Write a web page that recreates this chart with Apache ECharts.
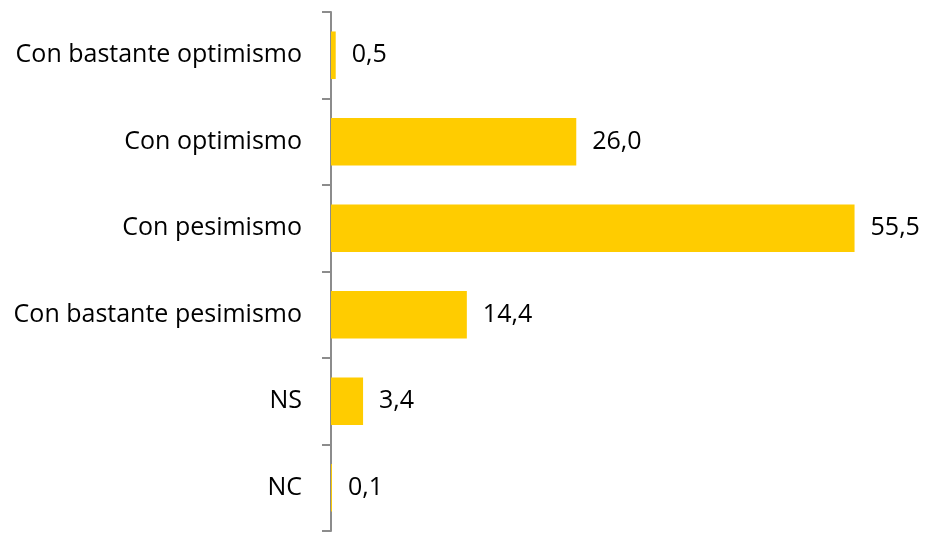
<!DOCTYPE html>
<html>
<head>
<meta charset="utf-8">
<script src="https://cdn.jsdelivr.net/npm/echarts@6/dist/echarts.min.js"></script>
<style>
  html, body { margin: 0; padding: 0; background: #fff; }
  #main { width: 926px; height: 533px; }
</style>
</head>
<body>
<div id="main"></div>
<script>
// datos del grafico (de arriba a abajo)
var categorias = ['Con bastante optimismo', 'Con optimismo', 'Con pesimismo', 'Con bastante pesimismo', 'NS', 'NC'];
var valores = [0.5, 26.0, 55.5, 14.4, 3.4, 0.1];

var myChart = echarts.init(document.getElementById('main'));

var option = {
    animation: false,
    grid: {
        left: 331,
        right: 29,
        top: 12,
        bottom: 2
    },
    xAxis: {
        type: 'value',
        min: 0,
        max: 60,
        show: false
    },
    yAxis: {
        type: 'category',
        inverse: true,
        data: categorias,
        axisLine: { show: true, lineStyle: { color: '#8c8c8c', width: 2 } },
        axisTick: { show: true, length: 9, lineStyle: { color: '#8c8c8c', width: 2 } },
        axisLabel: {
            margin: 29,
            color: '#000',
            fontSize: 25,
            fontFamily: 'Open Sans'
        }
    },
    series: [{
        type: 'bar',
        data: valores,
        barWidth: '55%',
        itemStyle: { color: '#FFCC00' },
        label: {
            show: true,
            position: 'right',
            distance: 16,
            color: '#000',
            fontSize: 25,
            fontFamily: 'Open Sans',
            formatter: function (p) {
                return p.value.toFixed(1).replace('.', ',');
            }
        }
    }]
};

myChart.setOption(option);
</script>
</body>
</html>
